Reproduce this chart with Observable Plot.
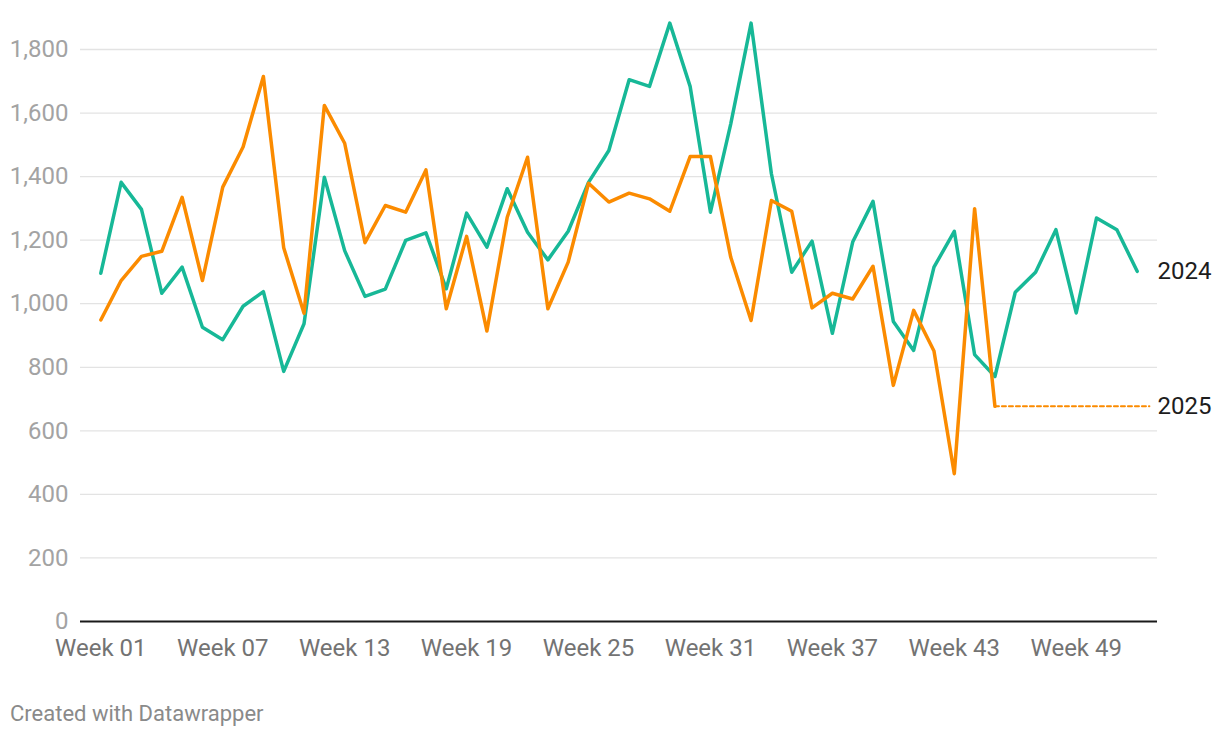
<!DOCTYPE html>
<html>
<head>
<meta charset="utf-8">
<script src="https://cdn.jsdelivr.net/npm/d3@7"></script>
<script src="https://cdn.jsdelivr.net/npm/@observablehq/plot@0.6"></script>
<style>
  html, body { margin: 0; padding: 0; background: #fff; }
  body { width: 1220px; height: 738px; overflow: hidden; font-family: Roboto, sans-serif; }
  #chart svg { display: block; }
  #caption { position: absolute; left: 10px; top: 703px; font-size: 22px; line-height: 22px; color: #8a8a8a; font-family: Roboto, sans-serif; }
</style>
</head>
<body>
<div id="chart"></div>
<div id="caption">Created with Datawrapper</div>
<script>
// Weekly values, 2024 (weeks 01–52)
const values2024 = [1096,1382,1297,1033,1115,926,887,992,1038,787,
  937,1398,1167,1023,1046,1199,1223,1047,1285,1178,
  1362,1225,1138,1228,1382,1482,1705,1684,1883,1684,
  1288,1566,1883,1409,1099,1197,907,1194,1322,944,
  853,1115,1228,840,771,1036,1099,1233,971,1270,1233,1102];
// Weekly values, 2025 (weeks 01–45)
const values2025 = [949,1073,1149,1165,1335,1073,1367,1493,1715,1176,
  970,1624,1505,1192,1309,1288,1421,984,1212,914,
  1272,1461,984,1131,1379,1320,1348,1330,1291,1463,
  1463,1146,947,1325,1291,987,1033,1015,1118,743,
  979,851,465,1299,677];
// 2025 dotted carry-forward (last value extended to the end of the year)
const projectionWeeks = [45, 52.6];
const projectionValues = [677, 677];

const xTickWeeks = [1, 7, 13, 19, 25, 31, 37, 43, 49];
const yTicks = [0, 200, 400, 600, 800, 1000, 1200, 1400, 1600, 1800];
const seriesNames = ["2024", "2025"];
const seriesLastValues = [1102, 677];

const colors = {"2024": "#17b897", "2025": "#fb8b00"};

const d2024 = values2024.map((v, i) => ({week: i + 1, value: v}));
const d2025 = values2025.map((v, i) => ({week: i + 1, value: v}));
const dProj = projectionWeeks.map((w, i) => ({week: w, value: projectionValues[i]}));
const dLabels = seriesNames.map((s, i) => ({name: s, value: seriesLastValues[i]}));

const chart = Plot.plot({
  width: 1220,
  height: 680,
  marginLeft: 80,
  marginRight: 63,
  marginTop: 49,
  marginBottom: 59,
  style: {fontFamily: "Roboto, sans-serif", fontSize: "24px", background: "#fff"},
  x: {domain: [0, 53]},
  y: {domain: [0, 1800]},
  marks: [
    Plot.gridY(yTicks.filter(d => d > 0), {stroke: "#e3e3e3", strokeOpacity: 1, strokeWidth: 1.3}),
    Plot.axisY(yTicks, {tickSize: 0, tickPadding: 12, fill: "#a3a3a3", fontSize: 24, tickFormat: d3.format(","), label: null}),
    Plot.axisX(xTickWeeks, {tickSize: 0, tickPadding: 17, fill: "#737373", fontSize: 24, tickFormat: d => "Week " + String(d).padStart(2, "0"), label: null}),
    Plot.ruleY([0], {stroke: "#1a1a1a", strokeWidth: 2}),
    Plot.line(dProj, {x: "week", y: "value", stroke: colors["2025"], strokeWidth: 2, strokeDasharray: "4,3"}),
    Plot.line(d2024, {x: "week", y: "value", stroke: colors["2024"], strokeWidth: 3.5}),
    Plot.line(d2025, {x: "week", y: "value", stroke: colors["2025"], strokeWidth: 3.5}),
    Plot.text(dLabels, {y: "value", text: "name", frameAnchor: "right", textAnchor: "start", fill: "#1d1d1d", fontSize: 24})
  ]
});
document.getElementById("chart").appendChild(chart);
</script>
</body>
</html>
